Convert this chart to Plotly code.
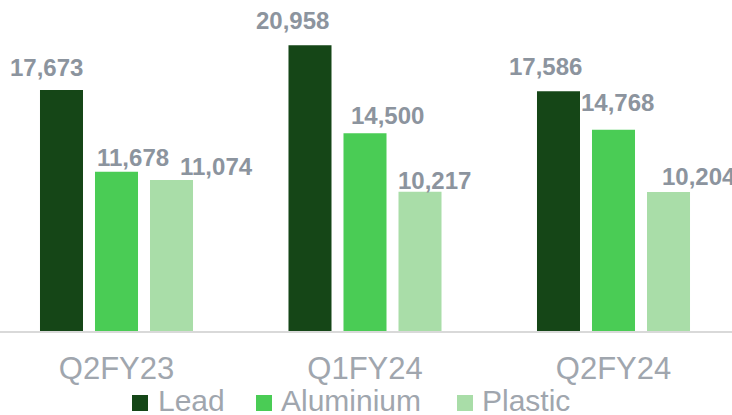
import plotly.graph_objects as go

categories = ["Q2FY23", "Q1FY24", "Q2FY24"]
series_names = ["Lead", "Aluminium", "Plastic"]
lead = [17673, 20958, 17586]
aluminium = [11678, 14500, 14768]
plastic = [11074, 10217, 10204]

colors = ["#154617", "#4ACC55", "#A9DDA8"]
# label offsets in pixels (dx, dy) per series per category
label_dx = [[-15, -18, -13], [16, 22, 4], [45, 14, 30]]
label_dy = [[23, 25, 25], [14, 18, 27], [14, 11, 15]]
# manual legend positions (pixels): square left edges, text left edges
legend_sq_x = [132, 256, 457]
legend_tx_x = [156, 279, 480]

W, H = 732, 415
MB = 84
PH = H - MB
FONT = "Liberation Sans, Arial, sans-serif"
px_per_cat = 248.5
slot = 55 / px_per_cat

fig = go.Figure()
values = [lead, aluminium, plastic]
xs = list(range(len(categories)))
for k, (name, vals) in enumerate(zip(series_names, values)):
    fig.add_trace(go.Bar(x=xs, y=vals, name=name, marker=dict(color=colors[k], line=dict(width=0)),
                         hoverinfo="skip"))

annotations = []
for k, vals in enumerate(values):
    for i, v in enumerate(vals):
        annotations.append(dict(
            x=i + (k - 1) * slot, y=v, xref="x", yref="y",
            text=f"{v:,}", showarrow=False, xanchor="center", yanchor="middle",
            xshift=label_dx[k][i], yshift=label_dy[k][i],
            font=dict(family=FONT, size=24, color="#8C949E", weight="bold"),
        ))

def py(p):
    return (PH - p) / PH

shapes = []
for k, name in enumerate(series_names):
    shapes.append(dict(type="rect", xref="paper", yref="paper",
                       x0=legend_sq_x[k] / W, x1=(legend_sq_x[k] + 16) / W,
                       y0=py(411), y1=py(395), fillcolor=colors[k], line=dict(width=0)))
    annotations.append(dict(x=legend_tx_x[k] / W, y=py(400), xref="paper", yref="paper",
                            text=name, showarrow=False, xanchor="left", yanchor="middle",
                            font=dict(family=FONT, size=30, color="#A0A6AE")))

fig.update_layout(
    width=W, height=H,
    margin=dict(l=0, r=0, t=0, b=MB, autoexpand=False),
    paper_bgcolor="white", plot_bgcolor="white",
    barmode="group", bargap=0.336, bargroupgap=0.218,
    showlegend=False,
    annotations=annotations,
    shapes=shapes,
    xaxis=dict(range=[-116.5 / px_per_cat, (W - 116.5) / px_per_cat],
               tickvals=xs, ticktext=categories, showgrid=False, zeroline=False,
               showline=True, linecolor="#D9D9D9", linewidth=2, ticks="",
               ticklabelstandoff=9, automargin=False,
               tickfont=dict(family=FONT, size=31, color="#A0A6AE")),
    yaxis=dict(range=[0, 24280], visible=False, showgrid=False, zeroline=False),
)

fig.write_html("out.html", config={"displayModeBar": False},
               post_script="document.body.style.margin='0';document.body.style.overflow='hidden';")
